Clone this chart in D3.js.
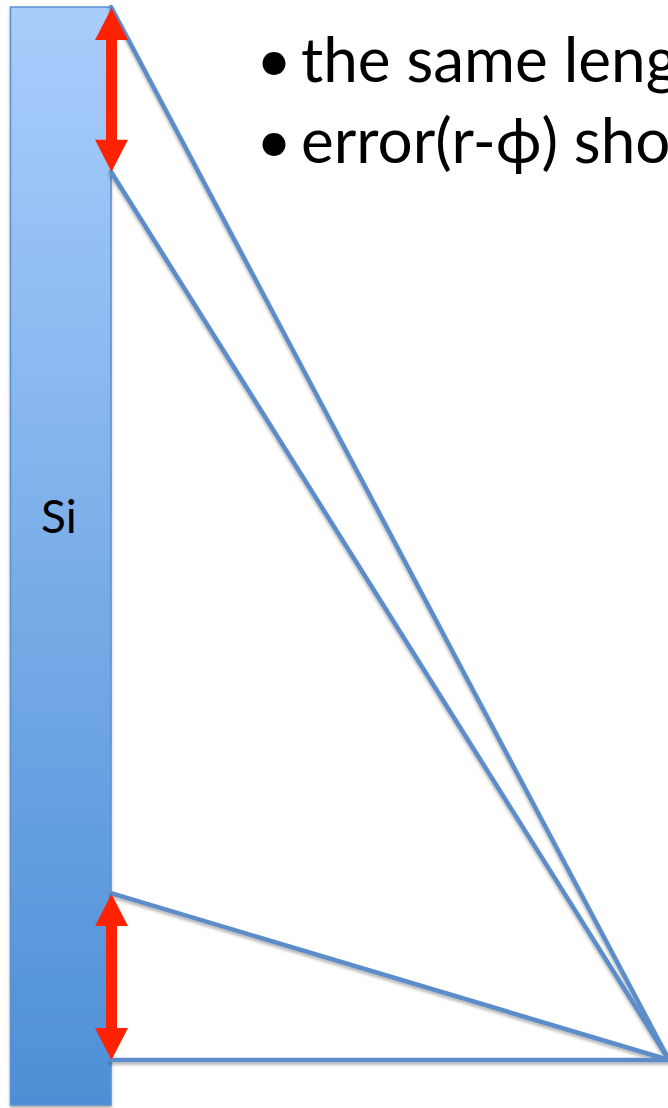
<!DOCTYPE html>
<html>
<head>
<meta charset="utf-8">
<script src="https://cdn.jsdelivr.net/npm/d3@7/dist/d3.min.js"></script>
<style>
  html, body { margin: 0; padding: 0; background: #ffffff; overflow: hidden; }
  svg { display: block; }
</style>
</head>
<body>
<script>
// ---- data (normalised units) ----
// positions along the Si strip (0 = top edge, 100 = bottom edge)
const hitPositions = [0, 15.0, 80.7, 95.9];
// the common source point (x along the horizontal axis, y along the strip)
const sourcePoint = [100, 95.9];
// red double arrows marking equal-length intervals on the strip
const arrowIntervals = [[0, 15.0], [80.7, 95.9]];
// bullet text lines (as visible in the picture)
const bulletLines = ["the same leng", "error(r-\u03d5) sho"];
const stripLabel = "Si";

const W = 668, H = 1108;
const svg = d3.select("body").append("svg").attr("width", W).attr("height", H);

const y = d3.scaleLinear().domain([0, 100]).range([7, 1105]);
const x = d3.scaleLinear().domain([0, 100]).range([111, 669]);

const defs = svg.append("defs");
const grad = defs.append("linearGradient").attr("id", "siGrad")
  .attr("x1", 0).attr("y1", 0).attr("x2", 0).attr("y2", 1);
grad.append("stop").attr("offset", "0%").attr("stop-color", "#a9cdfc");
grad.append("stop").attr("offset", "100%").attr("stop-color", "#4d8fd6");

const shadow = defs.append("filter").attr("id", "shadow")
  .attr("filterUnits", "userSpaceOnUse")
  .attr("x", 0).attr("y", 0).attr("width", W).attr("height", H);
shadow.append("feDropShadow").attr("dx", 0).attr("dy", 2.5).attr("stdDeviation", 1.6)
  .attr("flood-color", "#000").attr("flood-opacity", 0.3);

// Si strip
svg.append("rect")
  .attr("x", 10.5).attr("y", y(0))
  .attr("width", x(0) - 10.5).attr("height", y(100) - y(0))
  .attr("fill", "url(#siGrad)")
  .attr("stroke", "#5a8fcb").attr("stroke-width", 1.5)
  .attr("filter", "url(#shadow)");

svg.append("text")
  .attr("x", 59).attr("y", 533)
  .attr("text-anchor", "middle")
  .attr("font-family", "Lato, 'Open Sans', sans-serif")
  .attr("font-size", 46)
  .attr("fill", "#000")
  .text(stripLabel);

// rays from source to strip
svg.append("g").attr("filter", "url(#shadow)")
  .selectAll("line").data(hitPositions).join("line")
  .attr("x1", x(0)).attr("y1", d => y(d))
  .attr("x2", x(sourcePoint[0])).attr("y2", y(sourcePoint[1]))
  .attr("stroke", "#5b8dc9").attr("stroke-width", 4.5)
  .attr("stroke-linecap", "round");

// red double arrows
const headLen = 32, headHalf = 16.5, shaftHalf = 5.5;
const ax = x(0) + 0.5;
svg.append("g").selectAll("path").data(arrowIntervals).join("path")
  .attr("d", ([a, b]) => {
    const t = y(a) + 1, bt = y(b);
    return d3.line()([
      [ax, t], [ax + headHalf, t + headLen], [ax + shaftHalf, t + headLen],
      [ax + shaftHalf, bt - headLen], [ax + headHalf, bt - headLen], [ax, bt],
      [ax - headHalf, bt - headLen], [ax - shaftHalf, bt - headLen],
      [ax - shaftHalf, t + headLen], [ax - headHalf, t + headLen]
    ]) + "Z";
  })
  .attr("fill", "#ff2200");

// bullet text
const tg = svg.append("g")
  .attr("font-family", "Lato, 'Open Sans', sans-serif")
  .attr("font-size", 62)
  .attr("fill", "#000");
tg.selectAll("text.bul").data(bulletLines).join("text")
  .attr("class", "bul")
  .attr("x", 274).attr("y", (d, i) => 82 + i * 81)
  .attr("text-anchor", "middle")
  .text("\u2022");
tg.selectAll("text.line").data(bulletLines).join("text")
  .attr("class", "line")
  .attr("x", 301).attr("y", (d, i) => 82 + i * 81)
  .text(d => d);
</script>
</body>
</html>
